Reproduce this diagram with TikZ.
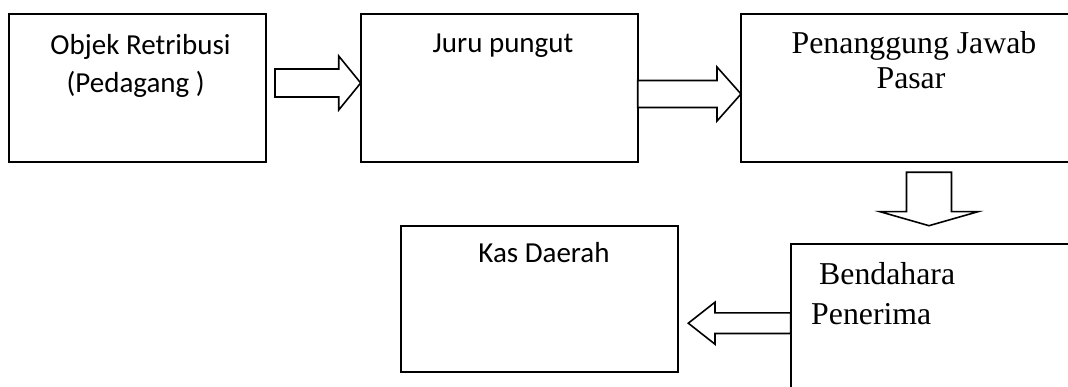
\documentclass[tikz,border=0pt]{standalone}
\usepackage{fontspec}
\usetikzlibrary{calc}
\newfontfamily\cfont{Carlito}
\newfontfamily\tfont{Liberation Serif}

% hollow block arrow: #1 tail, #2 tip, #3 shaft half-width, #4 head half-width, #5 head length
\newcommand\blockarrow[5]{%
  \coordinate (ba-h) at ($(#2)!#5!(#1)$);
  \draw[barrow] ($(#1)!#3!90:(#2)$) -- ($(ba-h)!#3!90:(#2)$) -- ($(ba-h)!#4!90:(#2)$)
    -- (#2) -- ($(ba-h)!#4!-90:(#2)$) -- ($(ba-h)!#3!-90:(#2)$) -- ($(#1)!#3!-90:(#2)$) -- cycle;
}

\tikzset{
  box/.style={draw=black, line width=2pt, rectangle, inner sep=0pt, outer sep=0pt},
  barrow/.style={draw=black, line width=1.6pt, line join=miter, fill=white},
  ctext/.style={font=\cfont\fontsize{29}{35}\selectfont, inner sep=0pt, anchor=base},
  ttext/.style={font=\tfont\fontsize{31.8}{37}\selectfont, inner sep=0pt, anchor=base},
}

\begin{document}
\begin{tikzpicture}[x=1pt, y=-1pt]
  \useasboundingbox (0,0) rectangle (1068,387);
  \clip (0,0) rectangle (1068,387);
  \fill[white] (0,0) rectangle (1068,387);

  % boxes
  \node[box, minimum width=256.7pt, minimum height=147.7pt] (objek) at (137.35,87.85) {};
  \node[box, minimum width=277pt, minimum height=147.7pt] (juru) at (499.2,87.85) {};
  \node[box, minimum width=359pt, minimum height=147.7pt] (pjp) at (920.5,87.85) {};
  \node[box, minimum width=309.3pt, minimum height=186pt] (bend) at (945.35,337) {};
  \node[box, minimum width=277.6pt, minimum height=146.6pt] (kas) at (539.5,299) {};

  % labels
  \node[ctext] (objek1) at (140.5,55) {Objek Retribusi};
  \node[ctext] (objek2) at (135.7,92.7) {(Pedagang )};
  \node[ctext] (juruT) at (503,52.7) {Juru pungut};
  \node[ttext] (pjp1) at (914,53.3) {Penanggung Jawab};
  \node[ttext] (pjp2) at (911,88.3) {Pasar};
  \node[ttext, anchor=base west] (bend1) at (819,285) {Bendahara};
  \node[ttext, anchor=base west] (bend2) at (811,324) {Penerima};
  \node[ctext] (kasT) at (544,263) {Kas Daerah};

  % arrow end points
  \coordinate (a1s) at (275,83);
  \coordinate (a1t) at (juru.west |- 0,83);
  \coordinate (a2s) at (juru.east |- 0,94);
  \coordinate (a2t) at (pjp.west |- 0,94);
  \coordinate (a3s) at (929,172.3);
  \coordinate (a3t) at (929,225.7);
  \coordinate (a4s) at (bend.west |- 0,323.2);
  \coordinate (a4t) at (688.3,323.2);

  % flow arrows
  \blockarrow{a1s}{a1t}{14pt}{27pt}{22pt}
  \blockarrow{a2s}{a2t}{13.5pt}{27pt}{24pt}
  \blockarrow{a3s}{a3t}{22.5pt}{49pt}{14pt}
  \blockarrow{a4s}{a4t}{10.3pt}{21pt}{26.7pt}
\end{tikzpicture}
\end{document}
